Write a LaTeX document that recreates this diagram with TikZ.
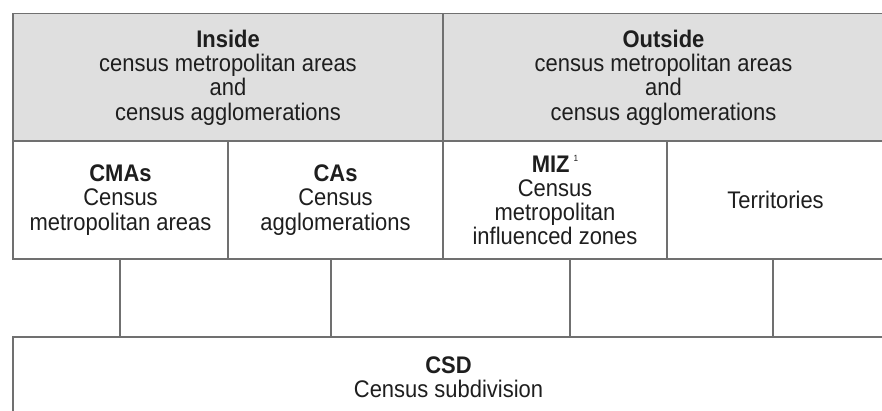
\documentclass[tikz,border=0pt]{standalone}
\usepackage{fontspec}
\setmainfont{Liberation Sans}[FakeStretch=0.915]
\definecolor{cellfill}{HTML}{DFDFDF}
\definecolor{rulec}{HTML}{707070}
\definecolor{ink}{HTML}{1E1E1E}
\begin{document}
\begin{tikzpicture}[x=1pt,y=-1pt,
  cell/.style={draw=rulec, line width=1.6pt, rectangle, inner sep=0pt, align=center,
    text=ink, font=\fontsize{24}{24.2}\selectfont},
  headcell/.style={cell, fill=cellfill, minimum height=128pt},
  subcell/.style={cell, fill=white, minimum height=118pt},
  link/.style={draw=rulec, line width=1.4pt}]
\useasboundingbox (0,0) rectangle (882,410);
\fill[white] (0,0) rectangle (882,410);

\node[headcell, minimum width=430pt] (inside) at (228,77.5)
  {\textbf{Inside}\\census metropolitan areas\\and\\census agglomerations};
\node[headcell, minimum width=441pt] (outside) at (663.5,77.5)
  {\textbf{Outside}\\census metropolitan areas\\and\\census agglomerations};

\node[subcell, minimum width=215pt] (cma) at (120.5,200)
  {\textbf{CMAs}\\Census\\metropolitan areas};
\node[subcell, minimum width=215pt] (ca) at (335.5,200)
  {\textbf{CAs}\\Census\\agglomerations};
\node[subcell, minimum width=224pt] (miz) at (555,200)
  {\textbf{MIZ}\,\raisebox{11pt}{\fontsize{9}{9}\selectfont 1}\\Census\\metropolitan\\influenced zones};
\node[subcell, minimum width=217pt] (terr) at (775.5,200)
  {Territories};

\node[cell, fill=white, minimum width=871pt, minimum height=81pt] (csd) at (448.5,377.5)
  {\textbf{CSD}\\Census subdivision};

\draw[link] ([xshift=-0.5pt]cma.south) -- ([xshift=-0.5pt]cma.south |- csd.north);
\draw[link] ([xshift=-4.5pt]ca.south) -- ([xshift=-4.5pt]ca.south |- csd.north);
\draw[link] ([xshift=15pt]miz.south) -- ([xshift=15pt]miz.south |- csd.north);
\draw[link] ([xshift=-2.5pt]terr.south) -- ([xshift=-2.5pt]terr.south |- csd.north);
\end{tikzpicture}
\end{document}
